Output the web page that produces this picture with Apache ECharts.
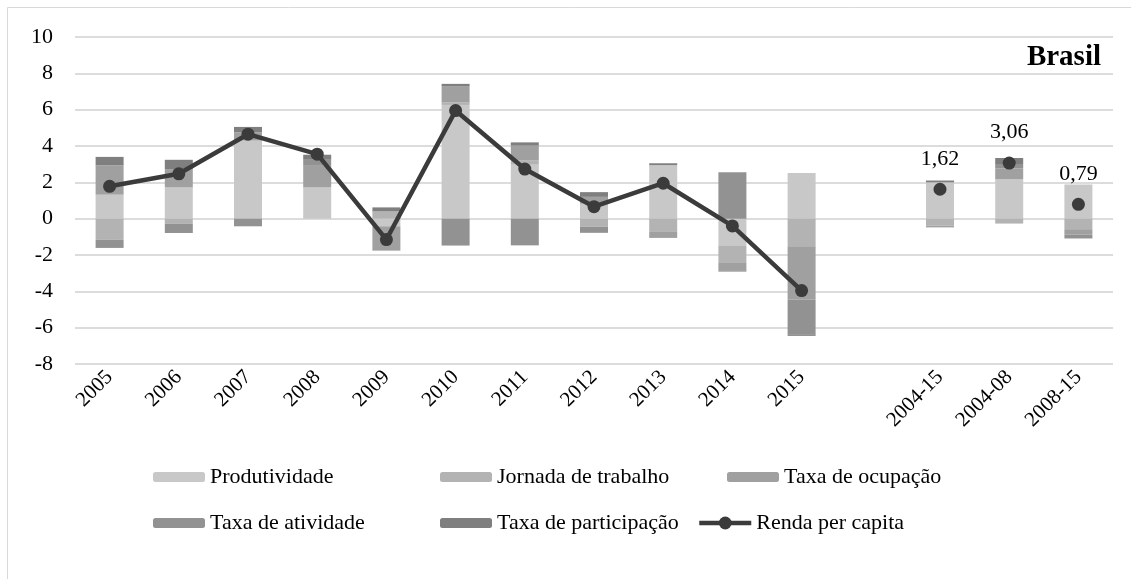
<!DOCTYPE html>
<html>
<head>
<meta charset="utf-8">
<script src="https://cdn.jsdelivr.net/npm/echarts@6/dist/echarts.min.js"></script>
<style>
  html, body { margin: 0; padding: 0; background: #fff; }
  #chart { width: 1131px; height: 579px; }
</style>
</head>
<body>
<div id="chart"></div>
<script>
const categories = ['2005', '2006', '2007', '2008', '2009', '2010', '2011', '2012', '2013', '2014', '2015', '', '2004-15', '2004-08', '2008-15']

const produtividade = [1.32, 1.72, 4.30, 1.72, -0.42, 6.26, 2.97, 0.82, 2.95, -1.47, 2.51, null, 2.00, 2.16, 1.88]
const jornada = [-1.15, -0.27, 0, 0, 0.40, 0.13, 0.25, -0.45, -0.73, -0.93, -1.52, null, -0.38, -0.27, -0.58]
const ocupacao = [1.61, 1.01, 0.45, 1.19, -1.34, 0.88, 0.80, 0.38, -0.33, -0.45, -2.93, null, -0.10, 0.60, -0.30]
const atividade = [-0.46, -0.52, -0.42, 0.33, 0, -1.48, -1.47, -0.33, 0, 2.55, -1.92, null, 0, 0.25, -0.21]
const participacao = [0.47, 0.51, 0.30, 0.28, 0.22, 0.15, 0.18, 0.26, 0.10, -0.06, -0.08, null, 0.10, 0.33, 0]
const rendaAnual = [1.78, 2.47, 4.65, 3.55, -1.15, 5.95, 2.73, 0.66, 1.95, -0.40, -3.96, null, null, null, null]
const rendaPeriodo = [null, null, null, null, null, null, null, null, null, null, null, null, 1.62, 3.06, 0.79]

const serif = 'Liberation Serif, Times New Roman, serif'
const barColors = ['#c8c8c8', '#b3b3b3', '#a0a0a0', '#929292', '#7f7f7f']
const lineColor = '#3b3b3b'

const chart = echarts.init(document.getElementById('chart'))

const barSeries = [
  ['Produtividade', produtividade],
  ['Jornada de trabalho', jornada],
  ['Taxa de ocupação', ocupacao],
  ['Taxa de atividade', atividade],
  ['Taxa de participação', participacao]
].map(([name, data], i) => ({
  name: name,
  type: 'bar',
  stack: 'total',
  data: data,
  barWidth: 28,
  itemStyle: { color: barColors[i] }
}))

// one legend per item so each sits where the reference puts it
const legendItem = (name, left, top, w, h) => ({
  data: [name],
  left: left,
  top: top,
  padding: 0,
  itemWidth: w,
  itemHeight: h,
  selectedMode: false,
  textStyle: { fontFamily: serif, fontSize: 22, color: '#000' }
})

const rendaLegend = legendItem('Renda per capita', 697, 512, 52, 16)
rendaLegend.lineStyle = { color: lineColor, width: 4.5 }
rendaLegend.itemStyle = { color: lineColor }

const option = {
  animation: false,
  backgroundColor: '#fff',
  grid: { left: 75, right: 18, top: 37, bottom: 215 },
  legend: [
    legendItem('Produtividade', 153, 466, 52, 10),
    legendItem('Jornada de trabalho', 440, 466, 52, 10),
    legendItem('Taxa de ocupação', 727, 466, 52, 10),
    legendItem('Taxa de atividade', 153, 512, 52, 10),
    legendItem('Taxa de participação', 440, 512, 52, 10),
    rendaLegend
  ],
  xAxis: {
    type: 'category',
    data: categories,
    axisLine: { show: false, onZero: false },
    axisTick: { show: false },
    axisLabel: {
      rotate: 45,
      interval: 0,
      margin: 10,
      fontFamily: serif,
      fontSize: 21,
      color: '#000'
    }
  },
  yAxis: {
    type: 'value',
    min: -8,
    max: 10,
    interval: 2,
    axisLine: { show: false },
    axisTick: { show: false },
    splitLine: { lineStyle: { color: '#dcdcdc', width: 2 } },
    axisLabel: { margin: 22, fontFamily: serif, fontSize: 22, color: '#000' }
  },
  series: [
    ...barSeries,
    {
      name: 'Renda per capita',
      type: 'line',
      data: rendaAnual,
      z: 5,
      symbol: 'circle',
      symbolSize: 13,
      lineStyle: { color: lineColor, width: 4.5 },
      itemStyle: { color: lineColor }
    },
    {
      name: 'Renda per capita',
      type: 'line',
      data: rendaPeriodo,
      z: 5,
      symbol: 'circle',
      symbolSize: 13,
      lineStyle: { width: 0 },
      itemStyle: { color: lineColor },
      label: {
        show: true,
        position: 'top',
        distance: 13,
        fontFamily: serif,
        fontSize: 22,
        color: '#000',
        formatter: p => p.value.toFixed(2).replace('.', ',')
      }
    }
  ],
  graphic: [
    {
      type: 'rect',
      shape: { x: 7.5, y: 7.5, width: 1200, height: 700 },
      style: { fill: 'none', stroke: '#d9d9d9', lineWidth: 1 },
      silent: true
    },
    {
      type: 'text',
      right: 30,
      top: 43,
      style: { text: 'Brasil', font: 'bold 29px ' + serif, fill: '#000' }
    }
  ]
}

chart.setOption(option)
</script>
</body>
</html>
